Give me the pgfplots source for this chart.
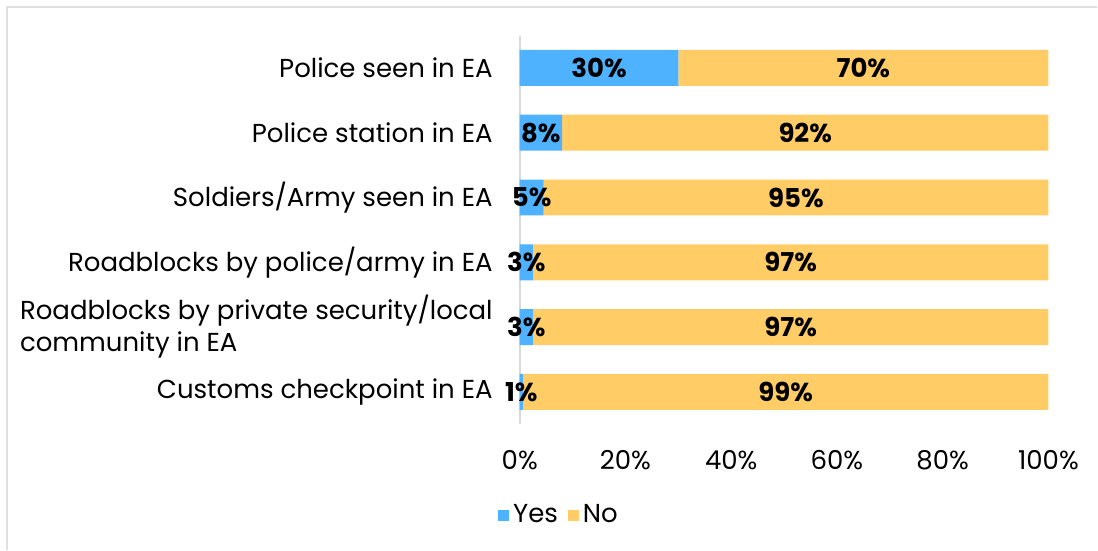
\documentclass[border=0pt]{standalone}
\usepackage{pgfplots}
\pgfplotsset{compat=1.18}
\usepackage{fontspec}
\setmainfont{Poppins}
\definecolor{cyes}{RGB}{79,178,255}
\definecolor{cno}{RGB}{255,204,102}
\begin{document}
\fontsize{13pt}{16pt}\selectfont
\begin{tikzpicture}
\path (0pt,0pt) rectangle (549pt,275pt);
\draw[black!12, line width=0.6pt] (3.5pt,0pt) -- (3.5pt,271.5pt) -- (549pt,271.5pt);
\begin{axis}[
  at={(260pt,62.8pt)}, anchor=south west,
  scale only axis, width=264.5pt, height=194.4pt,
  xmin=0, xmax=100, ymin=-0.5, ymax=5.5, y dir=reverse,
  stack plots=x,
  bar width=18pt,
  axis x line*=bottom, axis y line*=left,
  x axis line style={draw=none},
  y axis line style={draw=black!15, line width=0.8pt, -},
  tick style={draw=none},
  xtick={0,20,40,60,80,100},
  xticklabel={\pgfmathprintnumber{\tick}\%},
  /pgf/number format/assume math mode=true,
  xticklabel style={font=\fontsize{13pt}{15pt}\selectfont, anchor=center, yshift=-17.8pt},
  ytick={0,1,2,3,4,5},
  yticklabels={Police seen in EA, Police station in EA, Soldiers/Army seen in EA, Roadblocks by police/army in EA, {Roadblocks by private security/local\\community in EA}, Customs checkpoint in EA},
  yticklabel style={font=\fontsize{13pt}{16pt}\selectfont, align=left, xshift=-9pt},
  legend style={at={(-0.053,-0.2356)}, anchor=west, draw=none, fill=none, legend columns=2,
    font=\fontsize{13pt}{15pt}\selectfont,
    /tikz/every even column/.append style={column sep=3pt}},
  legend image code/.code={\path[#1] (0pt,-2.75pt) rectangle (5.5pt,2.75pt);},
  clip=false,
]
\addplot[xbar, bar shift=0pt, fill=cyes, draw=none] coordinates {(30,0) (8,1) (4.5,2) (2.5,3) (2.5,4) (0.6,5)};
\addplot[xbar, bar shift=0pt, fill=cno, draw=none] coordinates {(70,0) (92,1) (95.5,2) (97.5,3) (97.5,4) (99.4,5)};
\legend{Yes, No}
\addplot[stack plots=false, draw=none, mark=none, nodes near coords, point meta=explicit symbolic,
  nodes near coords style={font=\fontsize{13pt}{15pt}\selectfont\bfseries, anchor=center, text=black}]
  coordinates {(15,0) [30\%] (65,0) [70\%] (4,1) [8\%] (54,1) [92\%] (2.25,2) [5\%] (52.25,2) [95\%]
   (1.25,3) [3\%] (51.25,3) [97\%] (1.25,4) [3\%] (51.25,4) [97\%] (0.3,5) [1\%] (50.3,5) [99\%]};
\end{axis}
\end{tikzpicture}
\end{document}
